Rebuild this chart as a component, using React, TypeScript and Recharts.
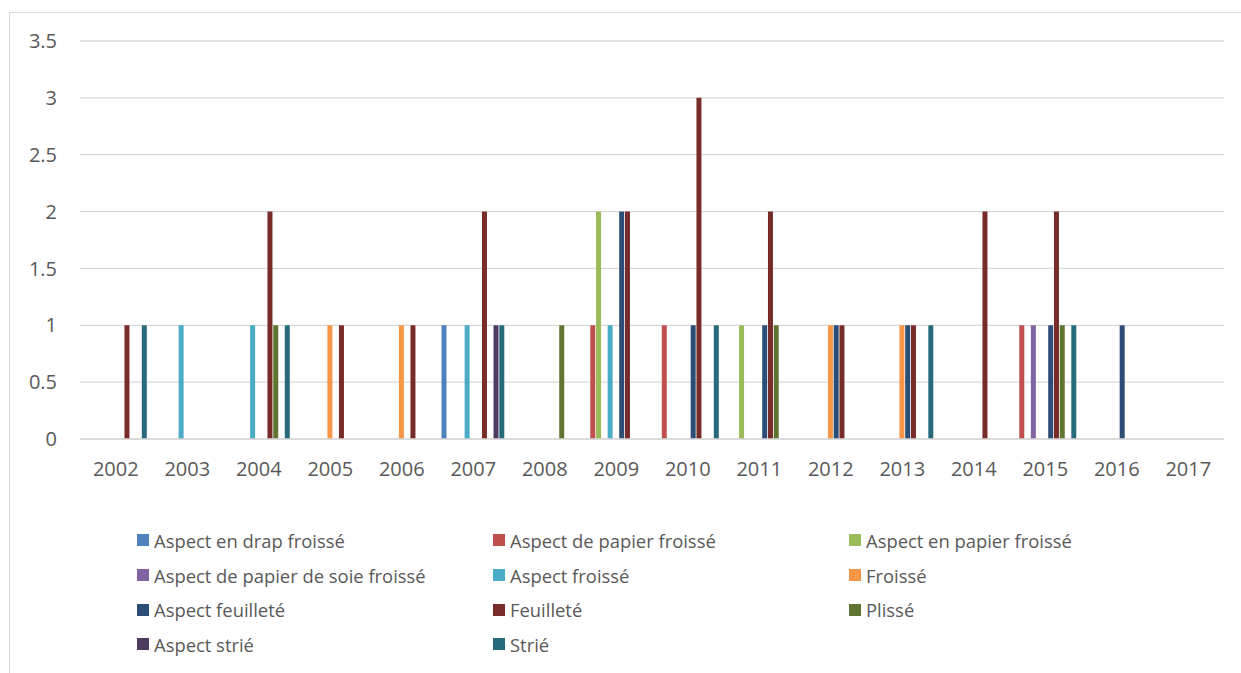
import React from "react";
import { BarChart, Bar, XAxis, YAxis, CartesianGrid, Legend } from "recharts";

const years = ["2002","2003","2004","2005","2006","2007","2008","2009","2010","2011","2012","2013","2014","2015","2016","2017"];

const seriesNames = [
  "Aspect en drap froissé",
  "Aspect de papier froissé",
  "Aspect en papier froissé",
  "Aspect de papier de soie froissé",
  "Aspect froissé",
  "Froissé",
  "Aspect feuilleté",
  "Feuilleté",
  "Plissé",
  "Aspect strié",
  "Strié",
];

const seriesColors = ["#4F81BD","#C0504D","#9BBB59","#8064A2","#4BACC6","#F79646","#2C4D75","#772C2A","#5F7530","#4D3B62","#276A7C"];

//                          02 03 04 05 06 07 08 09 10 11 12 13 14 15 16 17
const aspectDrapFroisse   = [0, 0, 0, 0, 0, 1, 0, 0, 0, 0, 0, 0, 0, 0, 0, 0];
const aspectPapierFroisse = [0, 0, 0, 0, 0, 0, 0, 1, 1, 0, 0, 0, 0, 1, 0, 0];
const aspectEnPapier      = [0, 0, 0, 0, 0, 0, 0, 2, 0, 1, 0, 0, 0, 0, 0, 0];
const aspectSoie          = [0, 0, 0, 0, 0, 0, 0, 0, 0, 0, 0, 0, 0, 1, 0, 0];
const aspectFroisse       = [0, 1, 1, 0, 0, 1, 0, 1, 0, 0, 0, 0, 0, 0, 0, 0];
const froisse             = [0, 0, 0, 1, 1, 0, 0, 0, 0, 0, 1, 1, 0, 0, 0, 0];
const aspectFeuillete     = [0, 0, 0, 0, 0, 0, 0, 2, 1, 1, 1, 1, 0, 1, 1, 0];
const feuillete           = [1, 0, 2, 1, 1, 2, 0, 2, 3, 2, 1, 1, 2, 2, 0, 0];
const plisse              = [0, 0, 1, 0, 0, 0, 1, 0, 0, 1, 0, 0, 0, 1, 0, 0];
const aspectStrie         = [0, 0, 0, 0, 0, 1, 0, 0, 0, 0, 0, 0, 0, 0, 0, 0];
const strie               = [1, 0, 1, 0, 0, 1, 0, 0, 1, 0, 0, 1, 0, 1, 0, 0];

const yTicks = [0, 0.5, 1, 1.5, 2, 2.5, 3, 3.5];

const seriesValues = [
  aspectDrapFroisse, aspectPapierFroisse, aspectEnPapier, aspectSoie, aspectFroisse,
  froisse, aspectFeuillete, feuillete, plisse, aspectStrie, strie,
];

const data = years.map((y, i) => {
  const row: Record<string, number | string> = { year: y };
  seriesNames.forEach((n, s) => { row["s" + s] = seriesValues[s][i]; });
  return row;
});

const LegendContent = () => (
  <div style={{ height: 140, display: "grid", gridTemplateColumns: "356px 356px 356px", gridAutoRows: "34.7px", paddingLeft: 137, boxSizing: "border-box", transform: "translateY(-2px)" }}>
    {seriesNames.map((n, i) => (
      <div key={n} style={{ height: 34.7, display: "flex", alignItems: "center", fontSize: 18.4, color: "#595959", whiteSpace: "nowrap" }}>
        <span style={{ display: "inline-block", width: 12, height: 12, background: seriesColors[i], marginRight: 5 }} />
        <span>{n}</span>
      </div>
    ))}
  </div>
);

export default function App() {
  return (
    <div style={{ position: "absolute", left: 0, top: 0, width: 1241, height: 673, background: "#fff", overflow: "hidden", fontFamily: '"Open Sans", sans-serif' }}>
      <div style={{ position: "absolute", left: 9, top: 12, width: 1232, height: 661, borderLeft: "1px solid #D9D9D9", borderTop: "1px solid #D9D9D9", boxSizing: "border-box" }} />
      <div style={{ position: "absolute", left: 0, top: 0 }}>
        <BarChart
          width={1241}
          height={673}
          data={data}
          margin={{ top: 41, right: 17, bottom: 8, left: 0 }}
          barSize={5}
          barGap={0.78}
          style={{ fontFamily: '"Open Sans", sans-serif' }}
        >
          <CartesianGrid vertical={false} stroke="#D9D9D9" strokeWidth={1.3} />
          <XAxis
            dataKey="year"
            height={86}
            tickSize={0}
            tickMargin={23}
            axisLine={{ stroke: "#D9D9D9", strokeWidth: 1.3 }}
            tickLine={false}
            tick={{ fill: "#595959", fontSize: 20 }}
            interval={0}
          />
          <YAxis
            width={80}
            domain={[0, 3.5]}
            ticks={yTicks}
            tickSize={0}
            tickMargin={23}
            axisLine={false}
            tickLine={false}
            tick={{ fill: "#595959", fontSize: 20 }}
            interval={0}
          />
          <Legend verticalAlign="bottom" content={<LegendContent />} wrapperStyle={{ left: 0, width: 1241 }} />
          {seriesNames.map((n, i) => (
            <Bar key={n} dataKey={"s" + i} name={n} fill={seriesColors[i]} isAnimationActive={false} />
          ))}
        </BarChart>
      </div>
    </div>
  );
}
